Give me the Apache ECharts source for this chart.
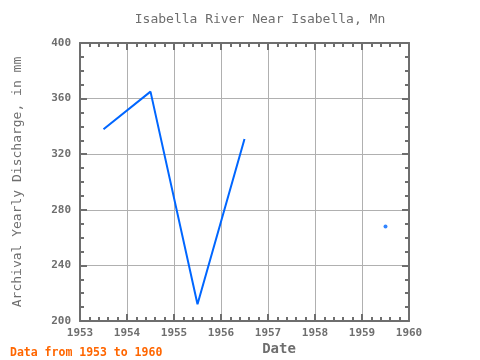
<!DOCTYPE html>
<html>
<head>
<meta charset="utf-8">
<script src="https://cdn.jsdelivr.net/npm/echarts@6/dist/echarts.min.js"></script>
<style>html,body{margin:0;padding:0;background:#fff;}#c{width:480px;height:360px;}</style>
</head>
<body>
<div id="c"></div>
<script>
const titleText = "Isabella River Near Isabella, Mn";
const xAxisTitle = "Date";
const yAxisTitle = "Archival Yearly Discharge, in mm";
const footnote = "Data from 1953 to 1960";
const years = [1953.5, 1954.5, 1955.5, 1956.5, 1957.5, 1958.5, 1959.5];
const discharge = [338, 365, 212, 331, null, null, 268];
const xTicks = [1953, 1954, 1955, 1956, 1957, 1958, 1959, 1960];
const yTicks = [200, 240, 280, 320, 360, 400];

const lineData = years.map((y, i) => [y, discharge[i]]);
const isolated = years.map((y, i) => [y, discharge[i]]).filter((p, i) =>
  p[1] != null && (i === 0 || discharge[i-1] == null) && (i === years.length-1 || discharge[i+1] == null));

const gray = '#6e6e6e';
const font = 'DejaVu Sans Mono';
const chart = echarts.init(document.getElementById('c'));
const axisCommon = {
  axisLine: {show: true, lineStyle: {color: gray, width: 2}},
  axisTick: {show: true, inside: true, length: 7, lineStyle: {color: gray, width: 2}},
};
chart.setOption({
  animation: false,
  title: [
    {text: titleText, left: 255, top: 8, textAlign: 'center',
     textStyle: {fontFamily: font, fontSize: 13, fontWeight: 'normal', color: gray}},
    {text: xAxisTitle, left: 274, top: 337, textAlign: 'center',
     textStyle: {fontFamily: font, fontSize: 14, fontWeight: 'bold', color: gray}},
    {text: footnote, left: 5, top: 342,
     textStyle: {fontFamily: font, fontSize: 11.5, fontWeight: 'bold', color: '#ff6600'}}
  ],
  grid: {left: 80, right: 71, top: 43, bottom: 39},
  xAxis: [
    Object.assign({type: 'value', min: xTicks[0], max: xTicks[xTicks.length-1], interval: 1,
      position: 'bottom',
      axisLabel: {fontFamily: font, fontSize: 11, fontWeight: 'bold', color: gray, margin: 7,
        formatter: v => xTicks.includes(v) ? String(v) : ''},
      minorTick: {show: true, splitNumber: 5, length: 4, lineStyle: {color: gray, width: 2}},
      splitLine: {show: true, lineStyle: {color: '#b0b0b0', width: 1}}
    }, axisCommon),
    Object.assign({type: 'value', min: xTicks[0], max: xTicks[xTicks.length-1], interval: 1,
      position: 'top',
      axisLabel: {show: false},
      minorTick: {show: true, splitNumber: 5, length: 4, lineStyle: {color: gray, width: 2}},
      splitLine: {show: false}
    }, axisCommon)
  ],
  yAxis: [
    Object.assign({type: 'value', min: yTicks[0], max: yTicks[yTicks.length-1], interval: 40,
      position: 'left',
      name: yAxisTitle, nameLocation: 'middle', nameRotate: 90, nameGap: 56,
      nameTextStyle: {fontFamily: font, fontSize: 13, color: gray},
      axisLabel: {fontFamily: font, fontSize: 11, fontWeight: 'bold', color: gray, margin: 9},
      minorTick: {show: true, splitNumber: 4, length: 4, lineStyle: {color: gray, width: 2}},
      splitLine: {show: true, lineStyle: {color: '#b0b0b0', width: 1}}
    }, axisCommon),
    Object.assign({type: 'value', min: yTicks[0], max: yTicks[yTicks.length-1], interval: 40,
      position: 'right',
      axisLabel: {show: false},
      minorTick: {show: true, splitNumber: 4, length: 4, lineStyle: {color: gray, width: 2}},
      splitLine: {show: false}
    }, axisCommon)
  ],
  series: [
    {type: 'line', data: lineData, connectNulls: false, showSymbol: false,
     lineStyle: {color: '#0066ff', width: 2}, itemStyle: {color: '#0066ff'}},
    {type: 'scatter', data: isolated, symbol: 'circle', symbolSize: 4,
     itemStyle: {color: '#0066ff'}}
  ]
});
</script>
</body>
</html>
